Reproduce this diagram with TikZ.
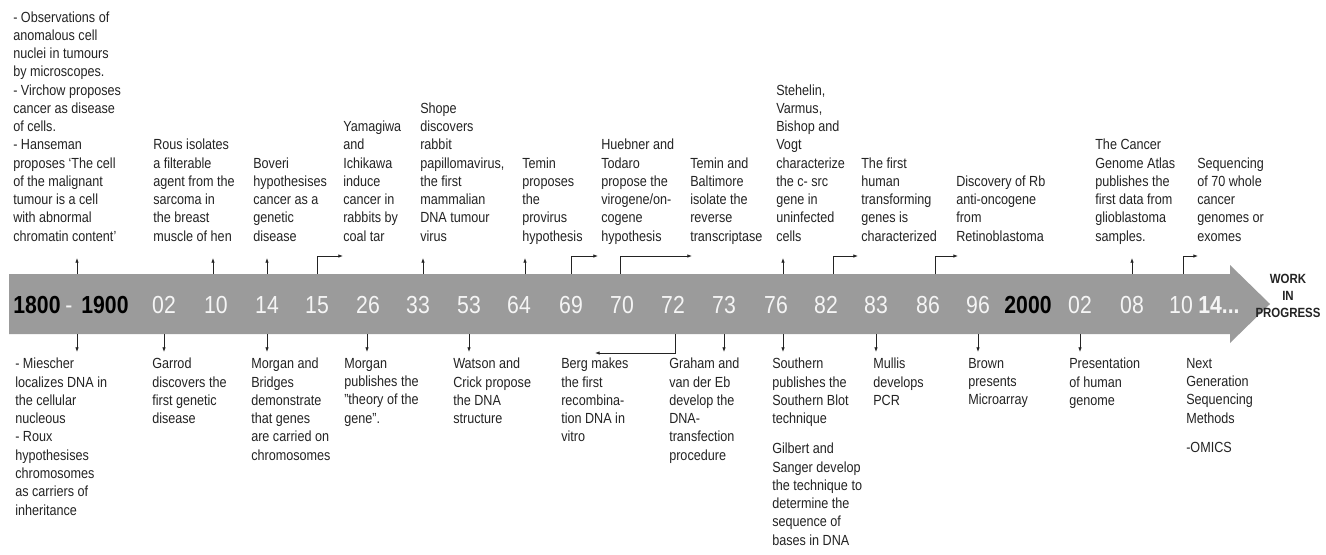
\documentclass[tikz,border=0pt]{standalone}
\usepackage{fontspec}
\setmainfont{Liberation Sans}[FakeStretch=0.86]
\usetikzlibrary{arrows.meta,calc}
\definecolor{bandgray}{RGB}{155,155,155}
\definecolor{ink}{RGB}{35,35,35}
\definecolor{paleyr}{RGB}{245,245,245}
\tikzset{
  note/.style={inner sep=0pt, align=left, text=ink,
    font=\fontsize{11}{13.7}\selectfont,
    execute at begin node=\strut, execute at end node=\strut},
  upnote/.style={note, anchor=south west},
  dnnote/.style={note, anchor=north west},
  yr/.style={inner sep=0pt, anchor=base, text=paleyr, font=\fontsize{18.5}{20}\selectfont},
  yrbold/.style={yr, text=black, font=\fontsize{18.5}{20}\selectfont\bfseries},
  tick/.style={-{Latex[length=3.5pt,width=2.6pt]}, draw=ink, line width=0.6pt},
}
\begin{document}
\begin{tikzpicture}[x=0.75pt,y=-0.75pt]
\useasboundingbox (0,0) rectangle (1326,554);
% the time band
\fill[bandgray] (9,274) -- (1230,274) -- (1230,265) -- (1270,304)
  -- (1230,343) -- (1230,334) -- (9,334) -- cycle;
\coordinate (top) at (0,274);
\coordinate (bot) at (0,334);
\coordinate (knee) at (0,256);
\coordinate (kneedn) at (0,353);
% years
\node[yrbold] (y1800) at (37,313) {1800};
\node[yr] (dash) at (69,313) {-};
\node[yrbold] (y1900) at (105,313) {1900};
\node[yr] (y02) at (164,313) {02};
\node[yr] (y10) at (216,313) {10};
\node[yr] (y14) at (267,313) {14};
\node[yr] (y15) at (317,313) {15};
\node[yr] (y26) at (368,313) {26};
\node[yr] (y33) at (418,313) {33};
\node[yr] (y53) at (469,313) {53};
\node[yr] (y64) at (519,313) {64};
\node[yr] (y69) at (571,313) {69};
\node[yr] (y70) at (622,313) {70};
\node[yr] (y72) at (673,313) {72};
\node[yr] (y73) at (724,313) {73};
\node[yr] (y76) at (776,313) {76};
\node[yr] (y82) at (826,313) {82};
\node[yr] (y83) at (876,313) {83};
\node[yr] (y86) at (928,313) {86};
\node[yr] (y96) at (978,313) {96};
\node[yrbold] (y2000) at (1028,313) {2000};
\node[yr] (y02b) at (1080,313) {02};
\node[yr] (y08) at (1132,313) {08};
\node[yr] (y10b) at (1181,313) {10};
\node[yr, anchor=base west, font=\fontsize{18.5}{20}\selectfont\bfseries] (y14b) at (1198,313) {14...};
\node[align=center, inner sep=0pt, text=ink, font=\fontsize{10}{12.8}\selectfont\bfseries]
  (wip) at (1288,296) {WORK\\IN\\PROGRESS};
% events above the band
\node[upnote] (obs) at (13,247) {- Observations of\\anomalous cell\\nuclei in tumours\\by microscopes.\\- Virchow proposes\\cancer as disease\\of cells.\\- Hanseman\\proposes ‘The cell\\of the malignant\\tumour is a cell\\with abnormal\\chromatin content’};
\node[upnote] (rous) at (153,247) {Rous isolates\\a filterable\\agent from the\\sarcoma in\\the breast\\muscle of hen};
\node[upnote] (boveri) at (253,247) {Boveri\\hypothesises\\cancer as a\\genetic\\disease};
\node[upnote] (yama) at (343,247) {Yamagiwa\\and\\Ichikawa\\induce\\cancer in\\rabbits by\\coal tar};
\node[upnote] (shope) at (420,247) {Shope\\discovers\\rabbit\\papillomavirus,\\the first\\mammalian\\DNA tumour\\virus};
\node[upnote] (temin) at (522,247) {Temin\\proposes\\the\\provirus\\hypothesis};
\node[upnote] (huebner) at (601,247) {Huebner and\\Todaro\\propose the\\virogene/on-\\cogene\\hypothesis};
\node[upnote] (baltimore) at (690,247) {Temin and\\Baltimore\\isolate the\\reverse\\transcriptase};
\node[upnote] (stehelin) at (776,247) {Stehelin,\\Varmus,\\Bishop and\\Vogt\\characterize\\the c- src\\gene in\\uninfected\\cells};
\node[upnote] (human) at (861,247) {The first\\human\\transforming\\genes is\\characterized};
\node[upnote] (rb) at (956,247) {Discovery of Rb\\anti-oncogene\\from\\Retinoblastoma};
\node[upnote] (tcga) at (1095,247) {The Cancer\\Genome Atlas\\publishes the\\first data from\\glioblastoma\\samples.};
\node[upnote] (seq) at (1197,247) {Sequencing\\of 70 whole\\cancer\\genomes or\\exomes};
% events below the band
\node[dnnote] (miescher) at (15,358) {- Miescher\\localizes DNA in\\the cellular\\nucleous\\- Roux\\hypothesises\\chromosomes\\as carriers of\\inheritance};
\node[dnnote] (garrod) at (152,358) {Garrod\\discovers the\\first genetic\\disease};
\node[dnnote] (bridges) at (251,358) {Morgan and\\Bridges\\demonstrate\\that genes\\are carried on\\chromosomes};
\node[dnnote] (morgan) at (344,358) {Morgan\\publishes the\\"theory of the\\gene".};
\node[dnnote] (watson) at (453,358) {Watson and\\Crick propose\\the DNA\\structure};
\node[dnnote] (berg) at (561,358) {Berg makes\\the first\\recombina-\\tion DNA in\\vitro};
\node[dnnote] (graham) at (669,358) {Graham and\\van der Eb\\develop the\\DNA-\\transfection\\procedure};
\node[dnnote] (southern) at (772,358) {Southern\\publishes the\\Southern Blot\\technique};
\node[dnnote] (gilbert) at (772,443) {Gilbert and\\Sanger develop\\the technique to\\determine the\\sequence of\\bases in DNA};
\node[dnnote] (mullis) at (873,358) {Mullis\\develops\\PCR};
\node[dnnote] (brown) at (968,358) {Brown\\presents\\Microarray};
\node[dnnote] (genome) at (1069,358) {Presentation\\of human\\genome};
\node[dnnote] (ngs) at (1186,358) {Next\\Generation\\Sequencing\\Methods};
\node[dnnote] (omics) at (1186,439) {-OMICS};
% connectors up
\draw[tick] ($(dash|-top)+(8,0)$) -- ++(0,-16);
\draw[tick] ($(y10|-top)+(-3,0)$) -- ++(0,-16);
\draw[tick] (y14|-top) -- ++(0,-16);
\draw[tick] ($(y33|-top)+(5,0)$) -- ++(0,-16);
\draw[tick] ($(y64|-top)+(6,0)$) -- ++(0,-16);
\draw[tick] ($(y76|-top)+(7,0)$) -- ++(0,-16);
\draw[tick] (y08|-top) -- ++(0,-16);
% connectors up and right
\draw[tick] (y15|-top) |- (yama.west|-knee);
\draw[tick] (y69|-top) |- ($(huebner.west|-knee)+(-3,0)$);
\draw[tick] ($(y70|-top)+(-2,0)$) |- ($(baltimore.west|-knee)+(2,0)$);
\draw[tick] ($(y82|-top)+(7,0)$) |- ($(human.west|-knee)+(-3,0)$);
\draw[tick] ($(y86|-top)+(7,0)$) |- ($(rb.west|-knee)+(2,0)$);
\draw[tick] ($(y10b|-top)+(2,0)$) |- ($(seq.west|-knee)+(1,0)$);
% connectors down
\draw[tick] ($(dash|-bot)+(8,0)$) -- ++(0,18);
\draw[tick] (y02|-bot) -- ++(0,18);
\draw[tick] (y14|-bot) -- ++(0,18);
\draw[tick] ($(y26|-bot)+(-1,0)$) -- ++(0,18);
\draw[tick] (y53|-bot) -- ++(0,18);
\draw[tick] (y73|-bot) -- ++(0,18);
\draw[tick] ($(y76|-bot)+(7,0)$) -- ++(0,18);
\draw[tick] (y83|-bot) -- ++(0,18);
\draw[tick] (y96|-bot) -- ++(0,18);
\draw[tick] (y02b|-bot) -- ++(0,18);
% connector down and left
\draw[tick] ($(y72|-bot)+(2,0)$) |- (berg.north|-kneedn);
\end{tikzpicture}
\end{document}
